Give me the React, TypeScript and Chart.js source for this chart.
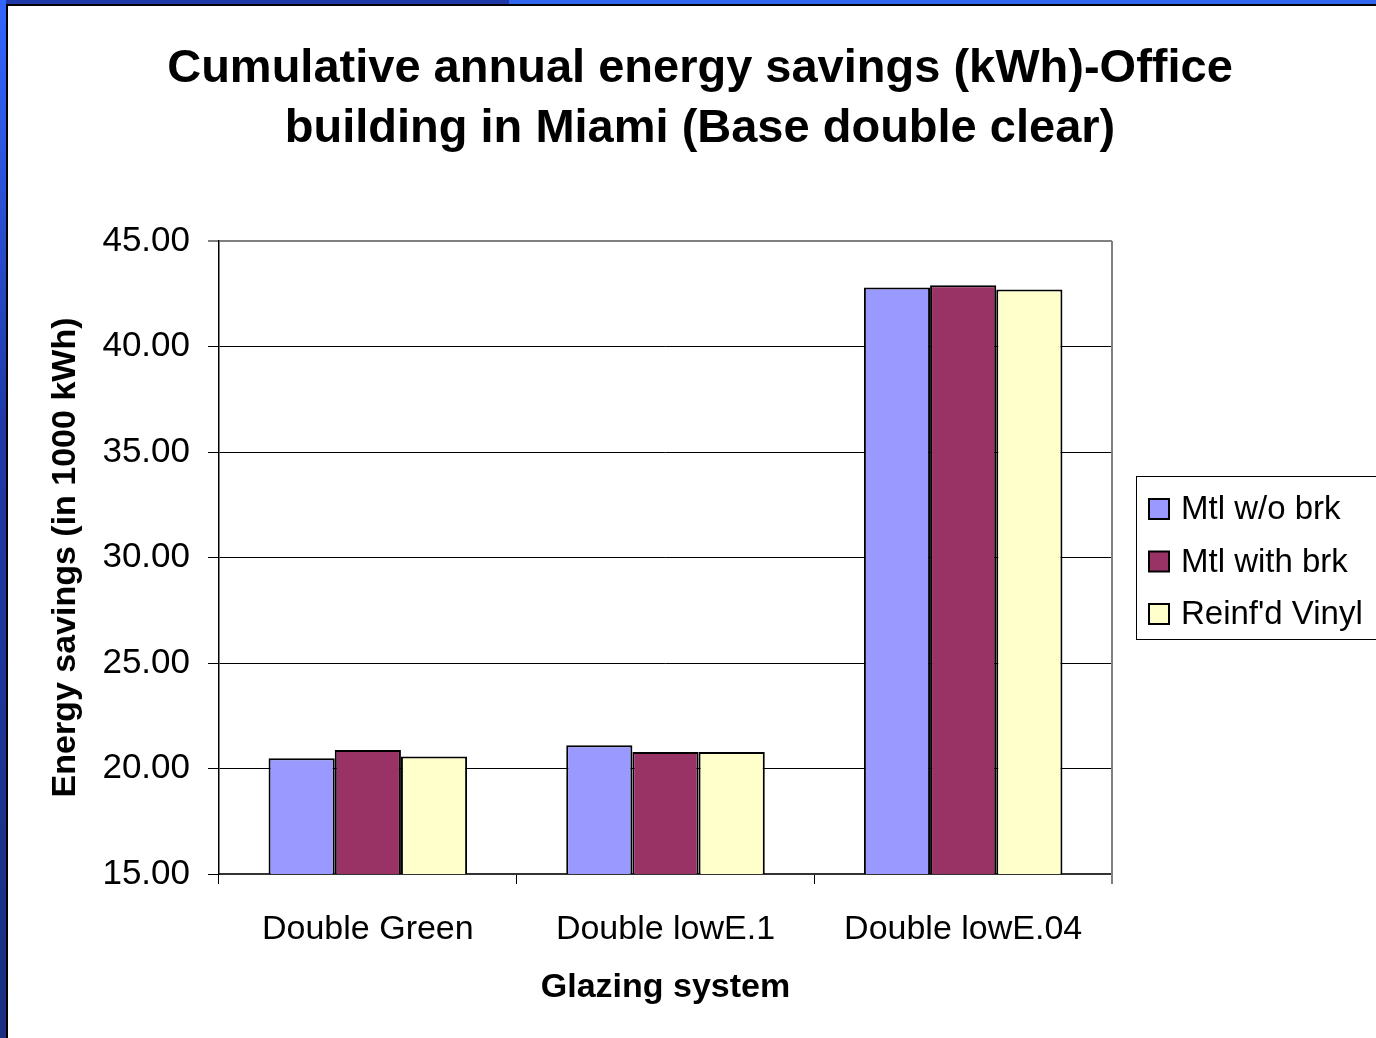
import React, { useEffect, useRef } from "react";
import { Chart, registerables } from "chart.js";

Chart.register(...registerables);

const titleLines = [
  "Cumulative annual energy savings (kWh)-Office",
  "building in Miami (Base double clear)",
];
const categories = ["Double Green", "Double lowE.1", "Double lowE.04"];
const seriesNames = ["Mtl w/o brk", "Mtl with brk", "Reinf'd Vinyl"];
const mtlWoBrk = [20.48, 21.1, 42.8];
const mtlWithBrk = [20.88, 20.78, 42.9];
const reinfVinyl = [20.57, 20.78, 42.7];
const seriesColors = ["#9999FF", "#993366", "#FFFFCC"];
const yMin = 15;
const yMax = 45;
const yStep = 5;
const xTitle = "Glazing system";
const yTitle = "Energy savings (in 1000 kWh)";

const FONT = '"Liberation Sans", Arial, sans-serif';

const titlePlugin = {
  id: "customTitle",
  afterDraw(chart: any) {
    const ctx = chart.ctx;
    ctx.save();
    ctx.fillStyle = "#000";
    ctx.font = `bold 47px ${FONT}`;
    ctx.textAlign = "center";
    ctx.textBaseline = "middle";
    titleLines.forEach((t, i) => ctx.fillText(t, 700, 69 + i * 60));
    ctx.restore();
  },
};

const framePlugin = {
  id: "plotFrame",
  afterDatasetsDraw(chart: any) {
    const { ctx, chartArea } = chart;
    ctx.save();
    ctx.strokeStyle = "#808080";
    ctx.lineWidth = 2;
    ctx.beginPath();
    ctx.moveTo(chartArea.right, chartArea.top);
    ctx.lineTo(chartArea.right, chartArea.bottom + 10);
    ctx.stroke();
    ctx.restore();
  },
};

const legendPlugin = {
  id: "customLegend",
  afterDraw(chart: any) {
    const ctx = chart.ctx;
    ctx.save();
    ctx.strokeStyle = "#000";
    ctx.lineWidth = 1;
    ctx.strokeRect(1136.5, 476.5, 280, 163);
    chart.data.datasets.forEach((ds: any, i: number) => {
      const cy = 509 + i * 52.5;
      ctx.fillStyle = ds.backgroundColor;
      ctx.fillRect(1149, cy - 10, 20, 20);
      ctx.lineWidth = 2;
      ctx.strokeRect(1149, cy - 10, 20, 20);
      ctx.fillStyle = "#000";
      ctx.font = `33px ${FONT}`;
      ctx.textAlign = "left";
      ctx.textBaseline = "middle";
      ctx.fillText(ds.label, 1181, cy + 1);
    });
    ctx.restore();
  },
};

export default function App() {
  const ref = useRef<HTMLCanvasElement | null>(null);
  useEffect(() => {
    if (!ref.current) return;
    const series = [mtlWoBrk, mtlWithBrk, reinfVinyl];
    const chart = new Chart(ref.current, {
      type: "bar",
      data: {
        labels: categories,
        datasets: series.map((d, i) => ({
          label: seriesNames[i],
          data: d,
          backgroundColor: seriesColors[i],
          borderColor: "#000",
          borderWidth: 2,
          categoryPercentage: 0.667,
          barPercentage: 1,
        })),
      },
      options: {
        animation: false,
        responsive: false,
        layout: { padding: { top: 241, right: 264, bottom: 0, left: 0 } },
        plugins: {
          legend: { display: false },
          title: { display: false },
          tooltip: { enabled: false },
        },
        scales: {
          x: {
            afterFit: (s: any) => {
              s.height = 164;
            },
            grid: {
              drawOnChartArea: false,
              drawTicks: true,
              tickLength: 10,
              color: "#000",
              offset: true,
            },
            border: { color: "#333", width: 2 },
            ticks: {
              color: "#000",
              font: { family: FONT, size: 34 },
              padding: 25,
              maxRotation: 0,
            },
            title: {
              display: true,
              text: xTitle,
              color: "#000",
              font: { family: FONT, size: 34, weight: "bold", lineHeight: 1.2 },
              padding: { top: 0, bottom: 30 },
            },
          },
          y: {
            min: yMin,
            max: yMax,
            afterFit: (s: any) => {
              s.width = 219;
            },
            grid: {
              color: (c: any) => (c.tick && c.tick.value === yMax ? "#808080" : "#000"),
              lineWidth: (c: any) => (c.tick && c.tick.value === yMax ? 2 : 1),
              tickLength: 11,
              drawTicks: true,
            },
            border: { color: "#000", width: 1.5 },
            ticks: {
              stepSize: yStep,
              color: "#000",
              font: { family: FONT, size: 35 },
              padding: 18,
              callback: (v: any) => Number(v).toFixed(2),
            },
            title: {
              display: true,
              text: yTitle,
              color: "#000",
              font: { family: FONT, size: 34, weight: "bold", lineHeight: 1.2 },
              padding: { top: 45, bottom: 0 },
            },
          },
        },
      },
      plugins: [titlePlugin, framePlugin, legendPlugin],
    });
    return () => chart.destroy();
  }, []);

  return (
    <div
      style={{
        position: "fixed",
        left: 0,
        top: 0,
        width: 1376,
        height: 1038,
        background: "#fff",
        overflow: "hidden",
      }}
    >
      <div style={{ position: "absolute", left: 0, top: 0, width: 1376, height: 4, background: "linear-gradient(to right, #1f3aa8 0, #1f3aa8 37%, #3366ee 37%, #3366ee 100%)" }} />
      <div style={{ position: "absolute", left: 6, top: 4, width: 1370, height: 2, background: "#000" }} />
      <div style={{ position: "absolute", left: 0, top: 0, width: 6, height: 1038, background: "linear-gradient(#3366ff, #1f3aa8 40%, #1a2f80)" }} />
      <div style={{ position: "absolute", left: 6, top: 4, width: 2, height: 1034, background: "#000" }} />
      <canvas
        ref={ref}
        width={1376}
        height={1038}
        style={{ position: "absolute", left: 0, top: 0, width: 1376, height: 1038 }}
      />
    </div>
  );
}
